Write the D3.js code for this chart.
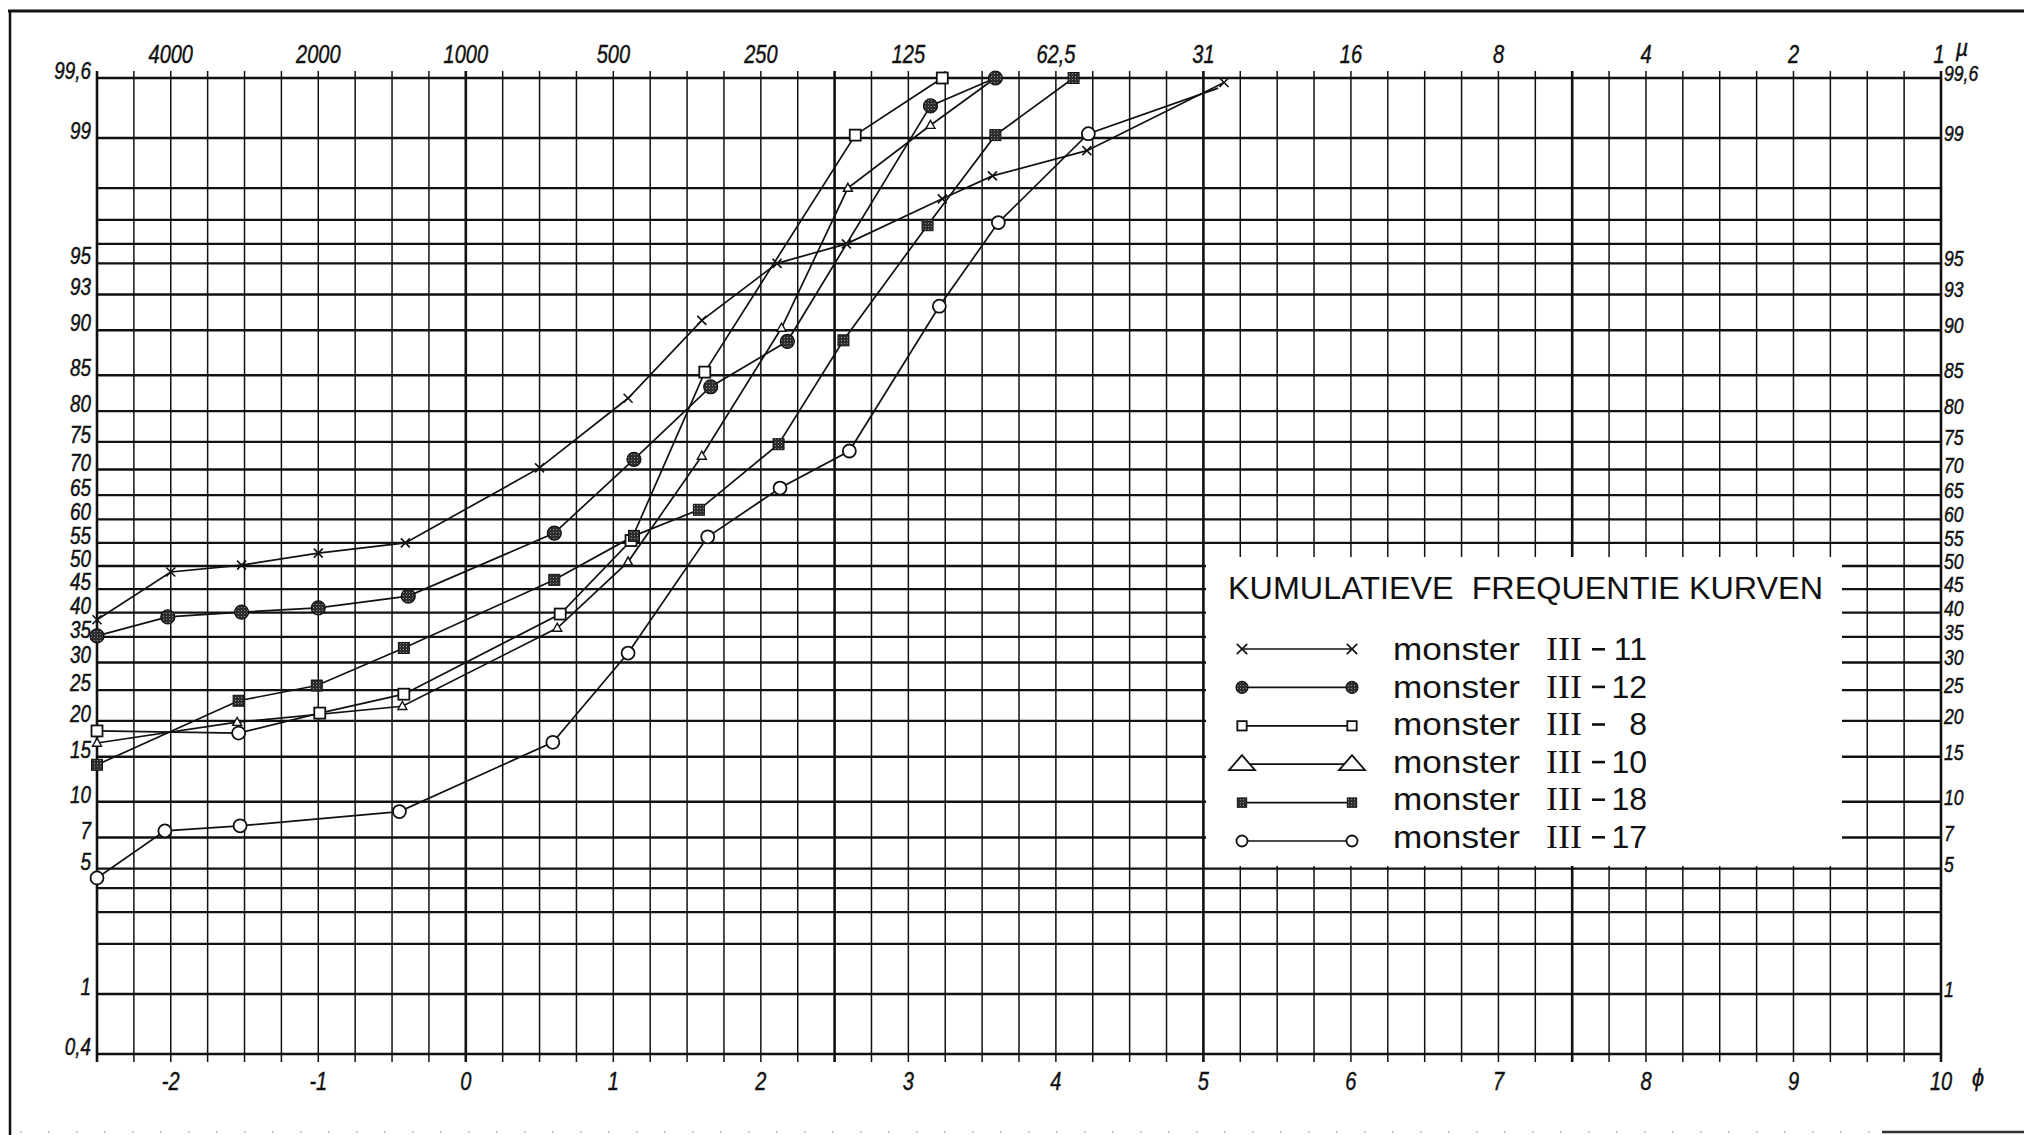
<!DOCTYPE html>
<html>
<head>
<meta charset="utf-8">
<script src="https://cdn.jsdelivr.net/npm/d3@7"></script>
<style>
  html, body { margin: 0; padding: 0; background: #fff; }
  svg { display: block; }
  .ax { font-family: "Liberation Sans", Arial, sans-serif; font-style: italic; fill: #111; stroke: #111; stroke-width: 0.45; }
  .leg { font-family: "Liberation Sans", Arial, sans-serif; fill: #111; }
  .roman { font-family: "Liberation Serif", "DejaVu Serif", serif; fill: #111; }
</style>
</head>
<body>
<svg id="chart" width="2024" height="1135"></svg>
<script>
/* Kumulatieve frequentie kurven — probability paper, phi scale */

// ── Axes / grid values ───────────────────────────────────────────────────────
const PHI_LABELS = [-2, -1, 0, 1, 2, 3, 4, 5, 6, 7, 8, 9, 10];
const MICRON_LABELS = ["4000", "2000", "1000", "500", "250", "125", "62,5", "31", "16", "8", "4", "2", "1"];
const GRID_PCT = [0.4, 1, 2, 3, 4, 5, 7, 10, 15, 20, 25, 30, 35, 40, 45, 50, 55, 60, 65, 70, 75, 80, 85, 90, 93, 95, 96, 97, 98, 99, 99.6];
const LEFT_PCT = [99.6, 99, 95, 93, 90, 85, 80, 75, 70, 65, 60, 55, 50, 45, 40, 35, 30, 25, 20, 15, 10, 7, 5, 1, 0.4];
const RIGHT_PCT = [99.6, 99, 95, 93, 90, 85, 80, 75, 70, 65, 60, 55, 50, 45, 40, 35, 30, 25, 20, 15, 10, 7, 5, 1];

// ── Series (phi, cumulative %) ───────────────────────────────────────────────
const S11_PHI = [-2.5, -2.0, -1.52, -1.0, -0.41, 0.5, 1.1, 1.6, 2.11, 2.58, 3.23, 3.57, 4.21, 5.14];
const S11_PCT = [38.5, 48.7, 50.2, 52.8, 55.0, 70.3, 81.9, 90.9, 95.0, 96.0, 97.7, 98.3, 98.8, 99.57];

const S12_PHI = [-2.5, -2.02, -1.52, -1.0, -0.39, 0.6, 1.14, 1.66, 2.18, 3.15, 3.59];
const S12_PCT = [35.2, 39.1, 40.1, 41.0, 43.5, 57.1, 71.9, 83.5, 88.9, 99.38, 99.6];

const S8_PHI = [-2.5, -1.54, -0.99, -0.42, 0.64, 1.12, 1.62, 2.64, 3.23];
const S8_PCT = [18.5, 18.2, 21.2, 24.3, 39.7, 55.5, 85.4, 99.04, 99.6];

const S10_PHI = [-2.5, -1.55, -0.43, 0.62, 1.10, 1.6, 2.14, 2.59, 3.15, 3.59];
const S10_PCT = [16.8, 19.8, 22.3, 36.8, 50.9, 72.5, 90.2, 98.0, 99.17, 99.6];

const S18_PHI = [-2.5, -1.54, -1.01, -0.42, 0.6, 1.14, 1.58, 2.12, 2.56, 3.13, 3.59, 4.12];
const S18_PCT = [14.0, 23.2, 25.8, 32.8, 47.0, 56.5, 62.0, 74.6, 89.0, 96.8, 99.04, 99.6];

const S17_PHI = [-2.5, -2.04, -1.53, -0.45, 0.59, 1.1, 1.64, 2.13, 2.6, 3.21, 3.61, 4.22, 5.1];
const S17_PCT = [4.5, 7.5, 7.9, 9.1, 16.9, 31.8, 56.3, 66.4, 73.4, 92.1, 96.9, 99.06, 99.53];

const SERIES = [
  { num: "17", shape: "circle", phi: S17_PHI, pct: S17_PCT },
  { num: "8",  shape: "square", phi: S8_PHI,  pct: S8_PCT },
  { num: "10", shape: "tri",    phi: S10_PHI, pct: S10_PCT },
  { num: "18", shape: "fsquare", phi: S18_PHI, pct: S18_PCT },
  { num: "11", shape: "cross",  phi: S11_PHI, pct: S11_PCT },
  { num: "12", shape: "dot",    phi: S12_PHI, pct: S12_PCT },
];
// points drawn by hand with another symbol (or none) on the original sheet
const ODD_MARKERS = { "8": { 1: "circle" }, "10": { 9: null }, "17": { 12: null } };

const LEGEND_ORDER = ["11", "12", "8", "10", "18", "17"];
const LEGEND_SHAPE = { "11": "cross", "12": "dot", "8": "square", "10": "tri", "18": "fsquare", "17": "circle" };

// ── Inverse normal (probability paper) ──────────────────────────────────────
function probit(p) {
  const a = [-3.969683028665376e+01, 2.209460984245205e+02, -2.759285104469687e+02, 1.383577518672690e+02, -3.066479806614716e+01, 2.506628277459239e+00];
  const b = [-5.447609879822406e+01, 1.615858368580409e+02, -1.556989798598866e+02, 6.680131188771972e+01, -1.328068155288572e+01];
  const c = [-7.784894002430293e-03, -3.223964580411365e-01, -2.400758277161838e+00, -2.549671010256429e+00, 4.374664141464968e+00, 2.938163982698783e+00];
  const d = [7.784695709041462e-03, 3.224671290700398e-01, 2.445134137142996e+00, 3.754408661907416e+00];
  const pl = 0.02425;
  let q, r;
  if (p < pl) {
    q = Math.sqrt(-2 * Math.log(p));
    return (((((c[0]*q+c[1])*q+c[2])*q+c[3])*q+c[4])*q+c[5]) / ((((d[0]*q+d[1])*q+d[2])*q+d[3])*q+1);
  }
  if (p <= 1 - pl) {
    q = p - 0.5; r = q * q;
    return (((((a[0]*r+a[1])*r+a[2])*r+a[3])*r+a[4])*r+a[5])*q / (((((b[0]*r+b[1])*r+b[2])*r+b[3])*r+b[4])*r+1);
  }
  q = Math.sqrt(-2 * Math.log(1 - p));
  return -(((((c[0]*q+c[1])*q+c[2])*q+c[3])*q+c[4])*q+c[5]) / ((((d[0]*q+d[1])*q+d[2])*q+d[3])*q+1);
}

const x = d3.scaleLinear().domain([-2.5, 10]).range([97, 1941]);
const zs = d3.scaleLinear().domain([probit(0.004), probit(0.996)]).range([1054, 78]);
const y = p => zs(probit(p / 100));

const svg = d3.select("#chart");

// stipple fill for the dark symbols
const defs = svg.append("defs");
const pat = defs.append("pattern").attr("id", "stip")
  .attr("width", 3).attr("height", 3).attr("patternUnits", "userSpaceOnUse");
pat.append("rect").attr("width", 3).attr("height", 3).attr("fill", "#2e2e2e");
pat.append("rect").attr("x", 1).attr("y", 1).attr("width", 1).attr("height", 1).attr("fill", "#8a8a8a");

// ── Sheet frame ──────────────────────────────────────────────────────────────
svg.append("line").attr("x1", 8).attr("x2", 2024).attr("y1", 11).attr("y2", 11)
  .attr("stroke", "#111").attr("stroke-width", 3);
svg.append("line").attr("x1", 10).attr("x2", 10).attr("y1", 10).attr("y2", 1135)
  .attr("stroke", "#111").attr("stroke-width", 2.5);
svg.append("line").attr("x1", 20).attr("x2", 1880).attr("y1", 1132).attr("y2", 1132)
  .attr("stroke", "#bbb").attr("stroke-width", 1.5).attr("stroke-dasharray", "2 26");
svg.append("line").attr("x1", 1882).attr("x2", 2024).attr("y1", 1132).attr("y2", 1132)
  .attr("stroke", "#333").attr("stroke-width", 2.5);

// ── Grid ─────────────────────────────────────────────────────────────────────
const grid = svg.append("g");
const phiGrid = d3.range(0, 51).map(i => -2.5 + i * 0.25);

grid.selectAll(".vg").data(phiGrid).join("line")
  .attr("x1", d => x(d)).attr("x2", d => x(d))
  .attr("y1", 71).attr("y2", 1062)
  .attr("stroke", "#111")
  .attr("stroke-width", d => (Math.abs(d / 2.5 - Math.round(d / 2.5)) < 1e-6 ? 2.6 : 1.5));

grid.selectAll(".hg").data(GRID_PCT).join("line")
  .attr("x1", x(-2.5)).attr("x2", x(10))
  .attr("y1", d => y(d)).attr("y2", d => y(d))
  .attr("stroke", "#111").attr("stroke-width", 2.4);

// legend panel blanks the grid
svg.append("rect").attr("x", 1206).attr("y", 557).attr("width", 636).attr("height", 309)
  .attr("fill", "#fff");

// ── Axis labels ──────────────────────────────────────────────────────────────
function label(sel, tx, ty, text, size, anchor, sx) {
  sel.append("text").attr("class", "ax")
    .attr("transform", `translate(${tx},${ty}) scale(${sx},1)`)
    .attr("font-size", size).attr("text-anchor", anchor).text(text);
}
const labels = svg.append("g");
const fmt = v => String(v).replace(".", ",");

LEFT_PCT.forEach(p => label(labels, 91, y(p) + 1, fmt(p), 23, "end", 0.82));
RIGHT_PCT.forEach(p => label(labels, 1944, y(p) + 3, fmt(p), 22, "start", 0.8));

PHI_LABELS.forEach((v, i) => {
  label(labels, x(v), 1090, v < 0 ? "-" + Math.abs(v) : String(v), 25, "middle", 0.8);
  label(labels, x(v) + (v === 10 ? -2 : 0), 63, MICRON_LABELS[i], 25, "middle", 0.8);
});
label(labels, 1962, 56, "\u00b5", 24, "middle", 0.9);
label(labels, 1978, 1086, "\u03d5", 24, "middle", 0.9);

// ── Markers ──────────────────────────────────────────────────────────────────
function marker(g, shape, cx, cy, big) {
  const k = big ? 0.85 : 1;
  if (shape === "cross") {
    const s = 4.5 * (big ? 1.15 : 1);
    g.append("path").attr("d", `M${cx - s},${cy - s}L${cx + s},${cy + s}M${cx - s},${cy + s}L${cx + s},${cy - s}`)
      .attr("stroke", "#111").attr("stroke-width", 1.6);
  } else if (shape === "dot") {
    g.append("circle").attr("cx", cx).attr("cy", cy).attr("r", 7 * k)
      .attr("fill", "url(#stip)").attr("stroke", "#111").attr("stroke-width", 1.2);
  } else if (shape === "fsquare") {
    const s = 11 * k;
    g.append("rect").attr("x", cx - s / 2).attr("y", cy - s / 2).attr("width", s).attr("height", s)
      .attr("fill", "url(#stip)").attr("stroke", "#111").attr("stroke-width", 1);
  } else if (shape === "square") {
    const s = 11 * k;
    g.append("rect").attr("x", cx - s / 2).attr("y", cy - s / 2).attr("width", s).attr("height", s)
      .attr("fill", "#fff").attr("stroke", "#111").attr("stroke-width", 1.8);
  } else if (shape === "circle") {
    g.append("circle").attr("cx", cx).attr("cy", cy).attr("r", 6.5 * k)
      .attr("fill", "#fff").attr("stroke", "#111").attr("stroke-width", 1.8);
  } else if (shape === "tri") {
    const w = big ? 13 : 4.5, h = big ? 15 : 8;
    g.append("path").attr("d", `M${cx - w},${cy + h * 0.4}L${cx + w},${cy + h * 0.4}L${cx},${cy - h * 0.6}Z`)
      .attr("fill", "#fff").attr("stroke", "#111").attr("stroke-width", big ? 1.8 : 1.4);
  }
}

// ── Curves ───────────────────────────────────────────────────────────────────
const line = d3.line().x(d => x(d[0])).y(d => y(d[1]));
const curves = svg.append("g");

SERIES.forEach(s => {
  const pts = s.phi.map((p, i) => [p, s.pct[i]]);
  curves.append("path").datum(pts).attr("d", line)
    .attr("fill", "none").attr("stroke", "#111").attr("stroke-width", 1.7);
});
SERIES.forEach(s => {
  const odd = ODD_MARKERS[s.num] || {};
  s.phi.forEach((p, i) => {
    const shape = i in odd ? odd[i] : s.shape;
    if (shape) marker(curves, shape, x(p), y(s.pct[i]), false);
  });
});

// ── Legend ───────────────────────────────────────────────────────────────────
const leg = svg.append("g");
leg.append("text").attr("class", "leg")
  .attr("x", 1228).attr("y", 599).attr("font-size", 32)
  .attr("textLength", 595).attr("lengthAdjust", "spacingAndGlyphs")
  .style("white-space", "pre")
  .text("KUMULATIEVE  FREQUENTIE KURVEN");

LEGEND_ORDER.forEach((num, i) => {
  const ly = 649 + i * 38.4;
  const base = 660 + i * 37.6;
  leg.append("line").attr("x1", 1242).attr("x2", 1352).attr("y1", ly).attr("y2", ly)
    .attr("stroke", "#111").attr("stroke-width", 1.7);
  marker(leg, LEGEND_SHAPE[num], 1242, ly, true);
  marker(leg, LEGEND_SHAPE[num], 1352, ly, true);

  leg.append("text").attr("class", "leg").attr("x", 1393).attr("y", base)
    .attr("font-size", 32).attr("textLength", 127).attr("lengthAdjust", "spacingAndGlyphs")
    .text("monster");
  leg.append("text").attr("class", "roman").attr("x", 1546).attr("y", base)
    .attr("font-size", 33).attr("textLength", 36).attr("lengthAdjust", "spacingAndGlyphs")
    .text("III");
  leg.append("rect").attr("x", 1592).attr("y", base - 12).attr("width", 13).attr("height", 2.6)
    .attr("fill", "#111");
  leg.append("text").attr("class", "leg").attr("x", 1647).attr("y", base)
    .attr("font-size", 32).attr("text-anchor", "end").text(num);
});
</script>
</body>
</html>
